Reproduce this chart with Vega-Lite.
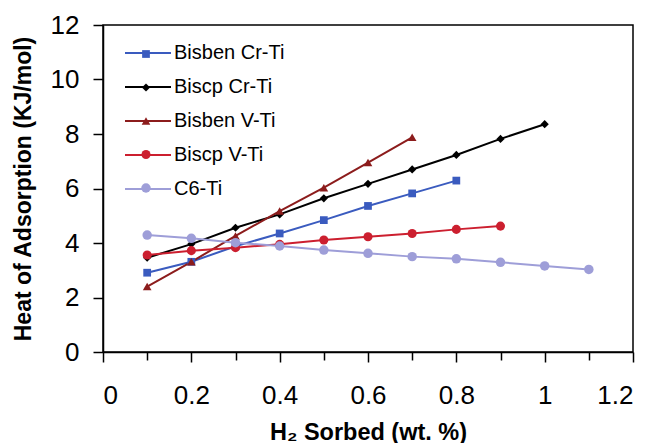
{
  "$schema": "https://vega.github.io/schema/vega-lite/v6.json",
  "width": 530,
  "height": 327,
  "autosize": {"type": "none"},
  "padding": {"left": 103, "top": 25, "right": 22, "bottom": 91},
  "background": "white",
  "config": {
    "font": "Liberation Sans",
    "view": {"stroke": "black", "strokeWidth": 1.5},
    "axis": {
      "grid": false,
      "domainColor": "black",
      "domainWidth": 1.5,
      "tickColor": "black",
      "tickWidth": 1.5,
      "labelColor": "black",
      "titleColor": "black",
      "labelFont": "Liberation Sans",
      "titleFont": "Liberation Sans",
      "titleFontWeight": "bold"
    },
    "legend": {"labelFont": "Liberation Sans", "labelColor": "black"}
  },
  "data": {
    "values": [
      {"series": "Bisben Cr-Ti", "x": 0.1, "y": 2.91},
      {"series": "Bisben Cr-Ti", "x": 0.2, "y": 3.31},
      {"series": "Bisben Cr-Ti", "x": 0.3, "y": 3.88},
      {"series": "Bisben Cr-Ti", "x": 0.4, "y": 4.35},
      {"series": "Bisben Cr-Ti", "x": 0.5, "y": 4.84},
      {"series": "Bisben Cr-Ti", "x": 0.6, "y": 5.36},
      {"series": "Bisben Cr-Ti", "x": 0.7, "y": 5.82},
      {"series": "Bisben Cr-Ti", "x": 0.8, "y": 6.29},
      {"series": "Biscp Cr-Ti", "x": 0.1, "y": 3.46},
      {"series": "Biscp Cr-Ti", "x": 0.2, "y": 3.96},
      {"series": "Biscp Cr-Ti", "x": 0.3, "y": 4.56},
      {"series": "Biscp Cr-Ti", "x": 0.4, "y": 5.05},
      {"series": "Biscp Cr-Ti", "x": 0.5, "y": 5.64},
      {"series": "Biscp Cr-Ti", "x": 0.6, "y": 6.17},
      {"series": "Biscp Cr-Ti", "x": 0.7, "y": 6.7},
      {"series": "Biscp Cr-Ti", "x": 0.8, "y": 7.23},
      {"series": "Biscp Cr-Ti", "x": 0.9, "y": 7.82},
      {"series": "Biscp Cr-Ti", "x": 1.0, "y": 8.36},
      {"series": "Bisben V-Ti", "x": 0.1, "y": 2.4},
      {"series": "Bisben V-Ti", "x": 0.2, "y": 3.31},
      {"series": "Bisben V-Ti", "x": 0.3, "y": 4.26},
      {"series": "Bisben V-Ti", "x": 0.4, "y": 5.17},
      {"series": "Bisben V-Ti", "x": 0.5, "y": 6.03},
      {"series": "Bisben V-Ti", "x": 0.6, "y": 6.95},
      {"series": "Bisben V-Ti", "x": 0.7, "y": 7.88},
      {"series": "Biscp V-Ti", "x": 0.1, "y": 3.56},
      {"series": "Biscp V-Ti", "x": 0.2, "y": 3.72},
      {"series": "Biscp V-Ti", "x": 0.3, "y": 3.83},
      {"series": "Biscp V-Ti", "x": 0.4, "y": 3.95},
      {"series": "Biscp V-Ti", "x": 0.5, "y": 4.11},
      {"series": "Biscp V-Ti", "x": 0.6, "y": 4.23},
      {"series": "Biscp V-Ti", "x": 0.7, "y": 4.35},
      {"series": "Biscp V-Ti", "x": 0.8, "y": 4.5},
      {"series": "Biscp V-Ti", "x": 0.9, "y": 4.62},
      {"series": "C6-Ti", "x": 0.1, "y": 4.29},
      {"series": "C6-Ti", "x": 0.2, "y": 4.17},
      {"series": "C6-Ti", "x": 0.3, "y": 4.01},
      {"series": "C6-Ti", "x": 0.4, "y": 3.89},
      {"series": "C6-Ti", "x": 0.5, "y": 3.74},
      {"series": "C6-Ti", "x": 0.6, "y": 3.62},
      {"series": "C6-Ti", "x": 0.7, "y": 3.5},
      {"series": "C6-Ti", "x": 0.8, "y": 3.42},
      {"series": "C6-Ti", "x": 0.9, "y": 3.29},
      {"series": "C6-Ti", "x": 1.0, "y": 3.16},
      {"series": "C6-Ti", "x": 1.1, "y": 3.03}
    ]
  },
  "encoding": {
    "x": {
      "field": "x",
      "type": "quantitative",
      "scale": {"domain": [0, 1.2], "nice": false},
      "axis": {
        "title": "H₂ Sorbed (wt. %)",
        "titleFontSize": 23.5,
        "titlePadding": 12,
        "values": [0, 0.1, 0.2, 0.3, 0.4, 0.5, 0.6, 0.7, 0.8, 0.9, 1.0, 1.1, 1.2],
        "labelExpr": "round(datum.value*10) % 2 == 0 ? format(datum.value, '~g') : ''",
        "labelFontSize": 26,
        "labelPadding": 20,
        "tickSize": {"condition": {"test": "round(datum.value*10) % 2 == 0", "value": 10}, "value": 8}
      }
    },
    "y": {
      "field": "y",
      "type": "quantitative",
      "scale": {"domain": [0, 12], "nice": false},
      "axis": {
        "title": "Heat of Adsorption (KJ/mol)",
        "titleFontSize": 23,
        "titlePadding": 15,
        "values": [0, 2, 4, 6, 8, 10, 12],
        "labelFontSize": 26,
        "labelPadding": 14,
        "tickSize": 10
      }
    }
  },
  "layer": [
    {
      "mark": {"type": "line", "strokeWidth": 2},
      "encoding": {
        "color": {
          "field": "series",
          "type": "nominal",
          "sort": ["Bisben Cr-Ti", "Biscp Cr-Ti", "Bisben V-Ti", "Biscp V-Ti", "C6-Ti"],
          "scale": {"range": ["#3a5bbf", "#000000", "#8c1c1c", "#cc1f2f", "#9e9ed8"]},
          "legend": {
            "title": null,
            "orient": "none",
            "legendX": 21,
            "legendY": 4,
            "padding": 0,
            "symbolType": "stroke",
            "symbolSize": 2116,
            "symbolStrokeWidth": 2,
            "labelFontSize": 20,
            "labelOffset": 2,
            "rowPadding": 0
          }
        }
      }
    },
    {
      "mark": {"type": "point", "filled": true, "opacity": 1},
      "encoding": {
        "fill": {
          "field": "series",
          "type": "nominal",
          "scale": {"domain": ["Bisben Cr-Ti", "Biscp Cr-Ti", "Bisben V-Ti", "Biscp V-Ti", "C6-Ti"], "range": ["#3a5bbf", "#000000", "#8c1c1c", "#cc1f2f", "#9e9ed8"]},
          "legend": {
            "title": null,
            "orient": "none",
            "legendX": 33,
            "legendY": 19,
            "padding": 0,
            "labelFontSize": 20,
            "labelOpacity": 0,
            "rowPadding": 13.5
          }
        },
        "shape": {
          "field": "series",
          "type": "nominal",
          "scale": {"domain": ["Bisben Cr-Ti", "Biscp Cr-Ti", "Bisben V-Ti", "Biscp V-Ti", "C6-Ti"], "range": ["square", "diamond", "triangle-up", "circle", "circle"]},
          "legend": {
            "title": null,
            "orient": "none",
            "legendX": 33,
            "legendY": 19,
            "padding": 0,
            "labelFontSize": 20,
            "labelOpacity": 0,
            "rowPadding": 13.5
          }
        },
        "size": {
          "field": "series",
          "type": "nominal",
          "scale": {"domain": ["Bisben Cr-Ti", "Biscp Cr-Ti", "Bisben V-Ti", "Biscp V-Ti", "C6-Ti"], "range": [60, 90, 85, 60, 55]},
          "legend": {
            "title": null,
            "orient": "none",
            "legendX": 33,
            "legendY": 19,
            "padding": 0,
            "labelFontSize": 20,
            "labelOpacity": 0,
            "rowPadding": 13.5
          }
        }
      }
    }
  ]
}
